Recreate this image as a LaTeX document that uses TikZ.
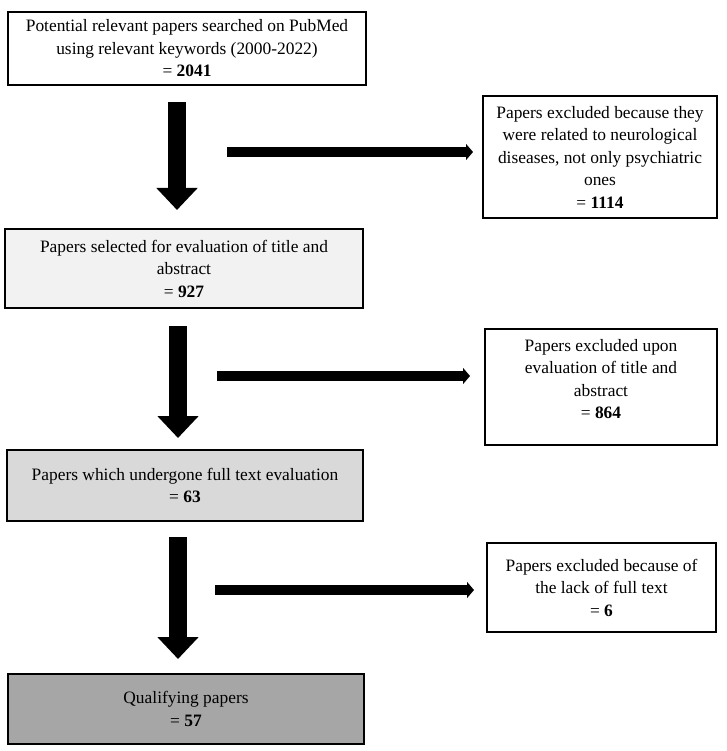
\documentclass[tikz,border=0pt]{standalone}
\usepackage{fontspec}
\setmainfont{Liberation Serif}
\usetikzlibrary{arrows.meta}
\definecolor{fillA}{HTML}{F2F2F2}
\definecolor{fillB}{HTML}{D9D9D9}
\definecolor{fillC}{HTML}{A6A6A6}
\begin{document}
\begin{tikzpicture}[x=1pt,y=-1pt,
  box/.style={draw=black,line width=1.6pt,align=center,inner sep=2pt,
    font=\fontsize{17.4}{22.5}\selectfont},
  txt/.style={align=center,inner sep=0pt,font=\fontsize{17.4}{22.5}\selectfont},
  down/.style={line width=18pt,-{Triangle[width=40pt,length=22pt]}},
  side/.style={line width=10pt,-{Triangle[width=16pt,length=7pt]}}]
\useasboundingbox (0,0) rectangle (726,751);
% boxes
\node[box,minimum width=358pt,minimum height=73pt] (b1) at (187,48.5)
  {Potential relevant papers searched on PubMed\\using relevant keywords (2000-2022)\\= \textbf{2041}};
\node[box,minimum width=234pt,minimum height=122pt] (b2) at (600,157)
  {Papers excluded because they\\were related to neurological\\diseases, not only psychiatric\\ones\\= \textbf{1114}};
\node[box,fill=fillA,minimum width=358pt,minimum height=79pt] (b3) at (184,268.5)
  {Papers selected for evaluation of title and\\abstract\\= \textbf{927}};
\node[box,minimum width=232pt,minimum height=116pt] (b4) at (601,387) {};
\node[txt] (b4t) at ([yshift=8pt]b4.center)
  {Papers excluded upon\\evaluation of title and\\abstract\\= \textbf{864}};
\node[box,fill=fillB,minimum width=356pt,minimum height=71pt] (b5) at (185,485.5)
  {Papers which undergone full text evaluation\\= \textbf{63}};
\node[box,minimum width=229pt,minimum height=89pt] (b6) at (601.5,587.5)
  {Papers excluded because of\\the lack of full text\\= \textbf{6}};
\node[box,fill=fillC,minimum width=356pt,minimum height=70pt] (b7) at (186,709)
  {Qualifying papers\\= \textbf{57}};
% arrow end points
\coordinate (d1s) at (177,102);
\coordinate (d1e) at (177,210);
\coordinate (d2s) at (178,326);
\coordinate (d2e) at (178,438);
\coordinate (d3s) at (178,537);
\coordinate (d3e) at (178,659);
\coordinate (h1s) at (227,152);
\coordinate (h1e) at (473,152);
\coordinate (h2s) at (217,376);
\coordinate (h2e) at (470,376);
\coordinate (h3s) at (215,590);
\coordinate (h3e) at (474,590);
\draw[down] (d1s) -- (d1e);
\draw[down] (d2s) -- (d2e);
\draw[down] (d3s) -- (d3e);
\draw[side] (h1s) -- (h1e);
\draw[side] (h2s) -- (h2e);
\draw[side] (h3s) -- (h3e);
\end{tikzpicture}
\end{document}
